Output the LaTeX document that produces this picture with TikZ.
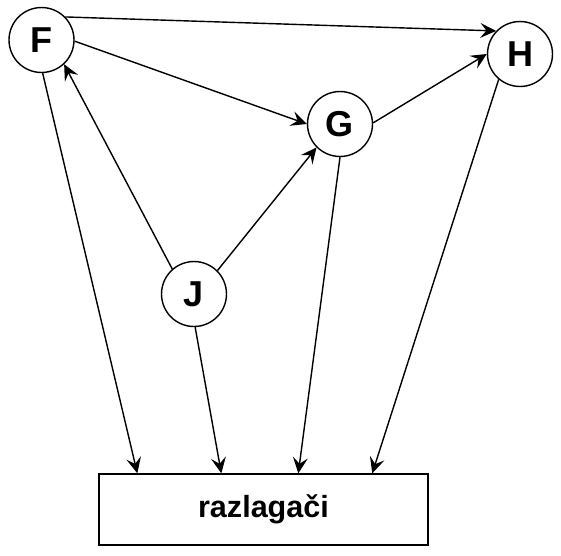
\documentclass[tikz,border=0pt]{standalone}
\usepackage{fontspec}
\setmainfont{Liberation Sans}
\usetikzlibrary{arrows.meta}

\begin{document}
\begin{tikzpicture}[x=0.02cm, y=-0.02cm, line width=0.8pt,
  stage/.style={draw, circle, fill=white, minimum size=1.3cm, inner sep=0pt,
    font=\fontsize{20.5}{24}\selectfont\bfseries},
  sink/.style={draw, minimum width=6.58cm, minimum height=1.42cm, inner sep=0pt,
    font=\fontsize{17.4}{21}\selectfont\bfseries},
  flow/.style={-{Stealth[length=9pt,width=8.5pt,inset=3.5pt]}}]
  \useasboundingbox (0,0) rectangle (561,555);

  % Stages
  \node[stage] (F) at (41.5,40) {F};
  \node[stage] (H) at (520,54) {H};
  \node[stage] (G) at (340,124) {G};
  \node[stage] (J) at (194,294) {J};

  % Bottom box
  \node[sink] (box) at (263.5,509.5) {razlagači};
  \coordinate (b1) at ([xshift=0.78cm]box.north west);
  \coordinate (b2) at ([xshift=2.46cm]box.north west);
  \coordinate (b3) at ([xshift=4.00cm]box.north west);
  \coordinate (b4) at ([xshift=5.48cm]box.north west);

  % Links between stages
  \draw[flow] (F.44) -- (H.136);
  \draw[flow] (F.-2) -- (G.180);
  \draw[flow] (J.131) -- (F.-47);
  \draw[flow] (J.45) -- (G.225);
  \draw[flow] (G.2) -- (H.180);

  % Links to the box
  \draw[flow] (F.-88) -- (b1);
  \draw[flow] (J.-88) -- (b2);
  \draw[flow] (G.-90) -- (b3);
  \draw[flow] (H.-130) -- (b4);
\end{tikzpicture}
\end{document}
